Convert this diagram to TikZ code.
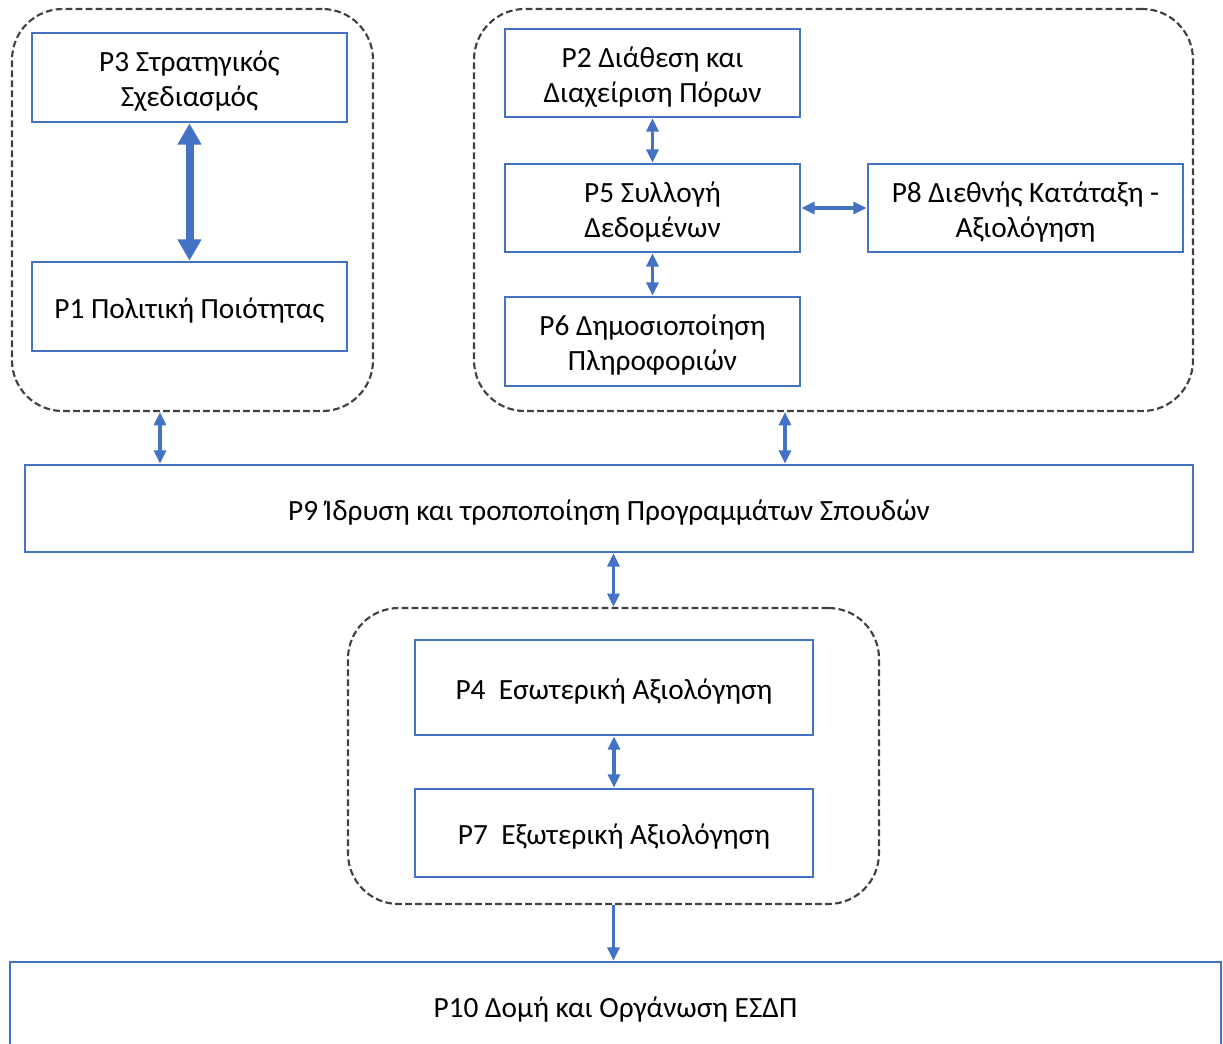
\documentclass[tikz,border=0pt]{standalone}
\usepackage{fontspec}
\setmainfont{Carlito}
\usetikzlibrary{arrows.meta}
\definecolor{bblue}{HTML}{4472C4}
\definecolor{dgray}{HTML}{404040}
\newcommand{\boxtext}[1]{\raisebox{-3.5pt}[\height][\depth]{\begin{tabular}{@{}c@{}}#1\end{tabular}}}
\begin{document}
\begin{tikzpicture}[x=0.75pt,y=-0.75pt,
  bx/.style n args={2}{draw=bblue, line width=1.9pt, fill=white,
     minimum width=#1*0.75pt, minimum height=#2*0.75pt, inner sep=0pt,
     font=\fontsize{22}{26.3}\selectfont},
  grp/.style n args={2}{draw=dgray, line width=1.6pt, dash pattern=on 5pt off 2.5pt,
     rounded corners=38pt, minimum width=#1*0.75pt, minimum height=#2*0.75pt, inner sep=0pt},
  arr/.style={draw=bblue, line width=2.3pt, {Triangle[length=10pt,width=9pt]}-{Triangle[length=10pt,width=9pt]}},
  arrone/.style={draw=bblue, line width=2.3pt, -{Triangle[length=10pt,width=9pt]}},
  thick arr/.style={draw=bblue, line width=6pt, {Triangle[length=16pt,width=17pt]}-{Triangle[length=16pt,width=17pt]}}
]
\useasboundingbox (0,0) rectangle (1223,1043);
\clip (0,0) rectangle (1223,1043);
% groups
\node[grp={361}{402}] (g1) at (192.5,210) {};
\node[grp={719}{402}] (g2) at (833.5,210) {};
\node[grp={531}{296}] (g3) at (613.5,756) {};
% boxes
\node[bx={315}{89}] (p3) at (189.5,77.5) {\boxtext{P3 Στρατηγικός\\Σχεδιασμός}};
\node[bx={315}{89}] (p1) at (189.5,306.5) {\boxtext{P1 Πολιτική Ποιότητας}};
\node[bx={295}{88}] (p2) at (652.5,73) {\boxtext{P2 Διάθεση και\\Διαχείριση Πόρων}};
\node[bx={295}{88}] (p5) at (652.5,208) {\boxtext{P5 Συλλογή\\Δεδομένων}};
\node[bx={315}{88}] (p8) at (1025.5,208) {\boxtext{P8 Διεθνής Κατάταξη -\\Αξιολόγηση}};
\node[bx={295}{89}] (p6) at (652.5,341.5) {\boxtext{P6 Δημοσιοποίηση\\Πληροφοριών}};
\node[bx={1168}{87}] (p9) at (609,508.5) {\boxtext{P9 Ίδρυση και τροποποίηση Προγραμμάτων Σπουδών}};
\node[bx={398}{95}] (p4) at (614,687.5) {\boxtext{P4\ \ Εσωτερική Αξιολόγηση}};
\node[bx={398}{88}] (p7) at (614,833) {\boxtext{P7\ \ Εξωτερική Αξιολόγηση}};
\node[bx={1211}{88}] (p10) at (615.5,1006) {\boxtext{P10 Δομή και Οργάνωση ΕΣΔΠ}};
% connectors
\draw[thick arr] (p3.south) -- (p1.north);
\draw[arr] (p2.south) -- (p5.north);
\draw[arr] (p5.south) -- (p6.north);
\draw[arr] (p5.east) -- (p8.west);
\draw[arr] ([xshift=-24.4pt]g1.south) -- ([xshift=-24.4pt]g1.south |- p9.north);
\draw[arr] ([xshift=-36.4pt]g2.south) -- ([xshift=-36.4pt]g2.south |- p9.north);
\draw[arr] (p9.south -| g3.north) -- (g3.north);
\draw[arr] (p4.south) -- (p7.north);
\draw[arrone] (g3.south) -- (g3.south |- p10.north);
\end{tikzpicture}
\end{document}
